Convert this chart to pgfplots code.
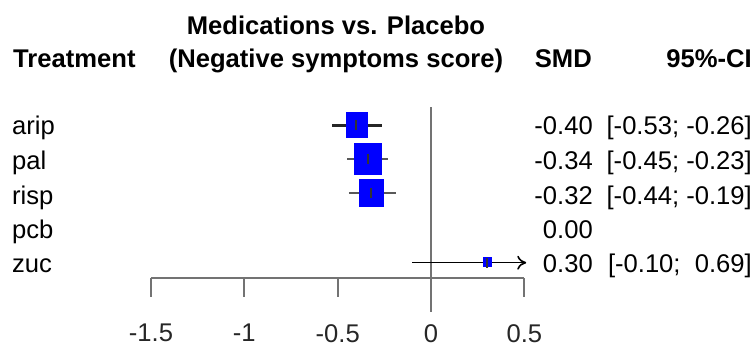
\documentclass[border=0pt]{standalone}
\usepackage{pgfplots}
\pgfplotsset{compat=1.18}
\usetikzlibrary{arrows.meta}
\usepackage{fontspec}
\setmainfont{Liberation Sans}
\newcommand{\fs}{\fontsize{25.6}{30}\selectfont}
\begin{document}
\begin{tikzpicture}
\begin{axis}[
  scale only axis,
  width=373.4pt, height=278.3pt,
  xmin=-1.5, xmax=0.5, ymin=68.7, ymax=347,
  clip=false,
  axis x line*=bottom,
  axis y line=none,
  axis line style={-, black!55, line width=2pt},
  xtick={-1.5,-1,-0.5,0,0.5},
  xticklabels={-1.5,-1,-0.5,0,0.5},
  tick align=outside,
  major tick length=18.4pt,
  tick style={black!55, line width=2pt},
  xticklabel style={font=\fs, text=black!85, yshift=-24pt},
]
% bounding box of the picture
\path (axis cs:-2.3088,0) rectangle (axis cs:1.7300,347);
% zero line
\addplot[black!55, line width=2pt] coordinates {(0,35.3) (0,240.3)};
% boxes
\addplot[blue, only marks, mark=square*, mark size=10.4pt, mark options={draw=blue, fill=blue, line width=0.4pt, yscale=1.2}] coordinates {(-0.40,222.5)};
\addplot[blue, only marks, mark=square*, mark size=13.2pt, mark options={draw=blue, fill=blue, line width=0.4pt, yscale=1.15}] coordinates {(-0.34,188.2)};
\addplot[blue, only marks, mark=square*, mark size=12.2pt, mark options={draw=blue, fill=blue, line width=0.4pt, yscale=1.1}] coordinates {(-0.32,154)};
\addplot[blue, only marks, mark=square*, mark size=4.1pt, mark options={draw=blue, fill=blue, line width=0.4pt, yscale=1.15}] coordinates {(0.30,85.3)};
% confidence intervals
\addplot[black!85, line width=2.2pt] coordinates {(-0.53,221.5) (-0.26,221.5)};
\addplot[black!65, line width=2.2pt] coordinates {(-0.45,188) (-0.23,188)};
\addplot[black!65, line width=2.2pt] coordinates {(-0.44,153.8) (-0.19,153.8)};
\addplot[black, line width=1.6pt, -{To[length=9pt,width=14pt]}] coordinates {(-0.10,84.3) (0.51,84.3)};
% centre ticks
\addplot[black!80, only marks, mark=|, mark size=5pt, mark options={draw=black!80, line width=2pt}] coordinates {(-0.40,221.5) (-0.34,188) (-0.32,153.8) (0.30,84.3)};
% headers
\node[anchor=base, font=\fs\bfseries] at (axis cs:-0.509,312) {Medications vs. Placebo};
\node[anchor=base, font=\fs\bfseries] at (axis cs:-0.509,279) {(Negative symptoms score)};
\node[anchor=base west, font=\fs\bfseries, inner sep=0pt] at (axis cs:-2.239,279) {Treatment};
\node[anchor=base east, font=\fs\bfseries, inner sep=0pt] at (axis cs:0.862,279) {SMD};
\node[anchor=base east, font=\fs\bfseries, inner sep=0pt] at (axis cs:1.719,279) {95\%-CI};
% row labels
\node[anchor=base west, font=\fs, inner sep=0pt] at (axis cs:-2.2445,212) {arip};
\node[anchor=base west, font=\fs, inner sep=0pt] at (axis cs:-2.2445,177) {pal};
\node[anchor=base west, font=\fs, inner sep=0pt] at (axis cs:-2.2445,142) {risp};
\node[anchor=base west, font=\fs, inner sep=0pt] at (axis cs:-2.2445,108) {pcb};
\node[anchor=base west, font=\fs, inner sep=0pt] at (axis cs:-2.2445,74) {zuc};
% SMD values
\node[anchor=base east, font=\fs, inner sep=0pt] at (axis cs:0.8675,212) {-0.40};
\node[anchor=base east, font=\fs, inner sep=0pt] at (axis cs:0.8675,177) {-0.34};
\node[anchor=base east, font=\fs, inner sep=0pt] at (axis cs:0.8675,142) {-0.32};
\node[anchor=base east, font=\fs, inner sep=0pt] at (axis cs:0.8675,108) {0.00};
\node[anchor=base east, font=\fs, inner sep=0pt] at (axis cs:0.8675,74) {0.30};
% CI values
\node[anchor=base east, font=\fs, inner sep=0pt] at (axis cs:1.719,212) {[-0.53; -0.26]};
\node[anchor=base east, font=\fs, inner sep=0pt] at (axis cs:1.719,177) {[-0.45; -0.23]};
\node[anchor=base east, font=\fs, inner sep=0pt] at (axis cs:1.719,142) {[-0.44; -0.19]};
\node[anchor=base east, font=\fs, inner sep=0pt] at (axis cs:1.719,74) {[-0.10;\ \ 0.69]};
\end{axis}
\end{tikzpicture}
\end{document}
